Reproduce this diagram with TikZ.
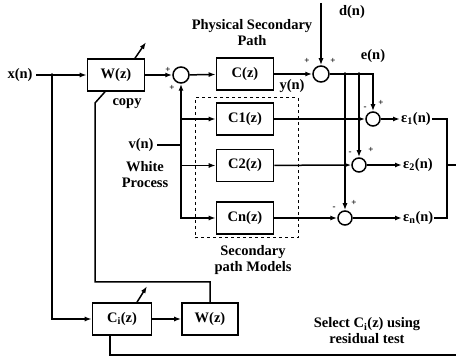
\documentclass[tikz,border=0pt]{standalone}
\usepackage{fontspec}
\setmainfont{Liberation Serif}
\usetikzlibrary{arrows.meta}
\begin{document}
\begin{tikzpicture}[
    x=1pt, y=-1pt,
    every node/.style={font=\fontsize{14.5}{16}\selectfont\bfseries},
    block/.style={draw, line width=1.6pt, minimum width=57pt, minimum height=32pt, inner sep=0pt},
    sum/.style={draw, circle, line width=1.5pt, minimum size=16pt, inner sep=0pt},
    sumsm/.style={sum, minimum size=14pt},
    sign/.style={font=\fontsize{9}{9}\selectfont\bfseries, inner sep=0pt},
    arr/.style={->, >={Latex[length=7pt,width=5pt]}, line width=1.5pt},
    ln/.style={line width=1.5pt},
    dot/.style={circle, fill, inner sep=0pt, minimum size=3.5pt}
]
\useasboundingbox (0,0) rectangle (456,358);

% Main path
\node (xn) at (20,75) {x(n)};
\node[dot] (xj) at (52,75) {};
\node[block] (w) at (116,75) {W(z)};
\node[sum] (s0) at (181,75) {};
\node[block] (c) at (245,74) {C(z)};
\node[sum] (s) at (321,74) {};
\coordinate (dtop) at (321,3);
\node (dn) at (352,12) {d(n)};
\node (en) at (373,56) {e(n)};
\node (yn) at (292,86) {y(n)};
\node[align=center] (phys) at (252,33) {Physical Secondary\\Path};
\node (copy) at (127,104) {copy};

% Secondary path models
\node[draw, dashed, line width=1pt, minimum width=103pt, minimum height=140pt] (models) at (246.5,168) {};
\node[block] (c1) at (245,119) {C1(z)};
\node[block] (c2) at (245,165.5) {C2(z)};
\node[block] (cn) at (245,218) {Cn(z)};
\node[align=center] (modlab) at (253,260) {Secondary\\path Models};
\node (vn) at (141,145) {v(n)};
\coordinate (vj) at (181,145);
\node[align=center] (white) at (145,175) {White\\Process};

% Residual sums
\node[sumsm] (e1s) at (373,119) {};
\node[sumsm] (e2s) at (359,165) {};
\node[sumsm] (ens) at (345,218) {};
\node[anchor=west, inner sep=1pt] (eps1) at (400,119) {ε\textsubscript{1}(n)};
\node[anchor=west, inner sep=1pt] (eps2) at (402,165) {ε\textsubscript{2}(n)};
\node[anchor=west, inner sep=1pt] (epsn) at (402,218) {ε\textsubscript{n}(n)};
\coordinate (br1) at (447,119);
\coordinate (brm) at (447,165);
\coordinate (brn) at (447,218);
\coordinate (out) at (456,165);

% Lower branch
\node[block, minimum width=59pt] (ci) at (122,319) {C\textsubscript{i}(z)};
\node[block, minimum width=56pt] (wl) at (210,319) {W(z)};
\coordinate (copyA) at (95,282);
\coordinate (copyB) at (95,103);
\coordinate (sel) at (456,355);
\node[align=center] (seltxt) at (367,331) {Select C\textsubscript{i}(z) using\\residual test};

% Signs
\node[sign] at (168,70) {+};
\node[sign] at (172,88) {+};
\node[sign] at (307,61) {+};
\node[sign] at (333,61) {+};
\node[sign] at (365,108) {-};
\node[sign] at (381,103) {+};
\node[sign] at (350,153) {-};
\node[sign] at (371,150) {+};
\node[sign] at (334,208) {-};
\node[sign] at (354,203) {+};

% Arrows
\draw[arr] (xn) -- (w);
\draw[arr] (xj.center) |- (ci);
\draw[arr] (w) -- (s0);
\draw[arr] (s0) -- (c);
\draw[arr] (c) -- (s);
\draw[arr] (dtop) -- (s);
\draw[ln] (vn) -- (vj);
\draw[arr] (vj) -- (s0);
\draw[arr] (vj |- c1) -- (c1);
\draw[arr] (vj |- c2) -- (c2);
\draw[arr] (vj) |- (cn);
\draw[arr] (s) -| (e1s);
\draw[arr] (e2s |- s) -- (e2s);
\draw[arr] (ens |- s) -- (ens);
\node[dot] at (e2s |- s) {};
\node[dot] at (ens |- s) {};
\draw[arr] (c1) -- (e1s);
\draw[arr] (c2) -- (e2s);
\draw[arr] (cn) -- (ens);
\draw[arr] (e1s) -- (eps1);
\draw[arr] (e2s) -- (eps2);
\draw[arr] (ens) -- (epsn);
\draw[ln] (eps1.east) -- (br1) -- (brn) -- (epsn.east);
\draw[ln] (brm) -- (out);
\draw[arr] (ci) -- (wl);
\draw[ln] (wl.north) |- (copyA) -- (copyB) -- ([xshift=-11pt]w.south);
\draw[arr] ([xshift=19pt]w.north) -- ++(11,-16);
\draw[arr] ([xshift=15pt]ci.north) -- ++(10,-16);
\draw[ln] (sel) -| ([xshift=-12pt]ci.south);
\end{tikzpicture}
\end{document}
